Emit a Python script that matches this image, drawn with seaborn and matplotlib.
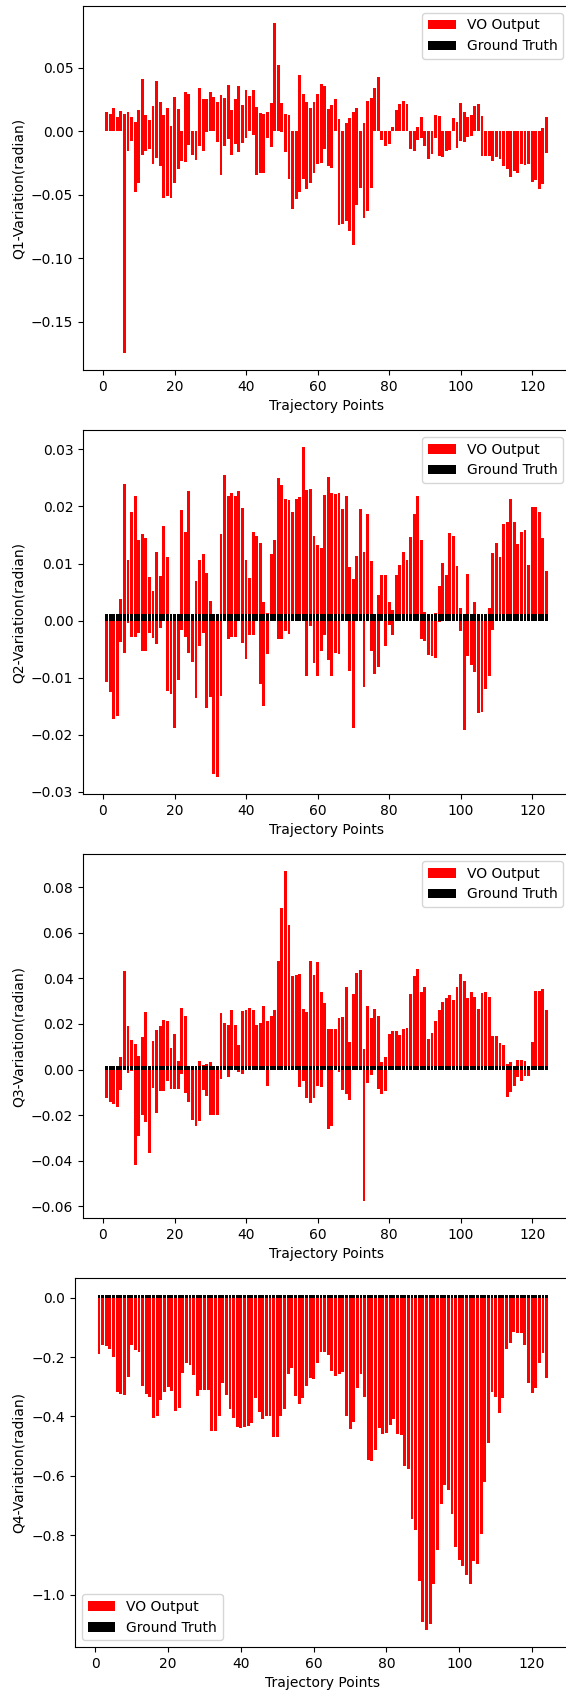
import matplotlib
matplotlib.use("Agg")
import matplotlib.pyplot as plt
import pandas as pd
import seaborn as sns

# Trajectory point index
points = list(range(1, 125))

# VO output: each point shows a red column above and below zero,
# so the upper and lower extents are kept separately
q1_up = [
    0.0153, 0.0138, 0.018, 0.0108, 0.0161, 0.0132, 0.0153, 0.0111, 0.0069, 0.0164,
    0.0413, 0.0124, 0.0085, 0.0196, 0.0397, 0.0233, 0.0127, 0.018, 0.0037, 0.0272,
    0.0172, 0, 0.0312, 0.0296, 0, 0, 0.0336, 0.0257, 0.0251, 0.0312,
    0.0265, 0.0228, 0.0288, 0.0259, 0.036, 0.0164, 0.0257, 0.0354, 0.0209, 0.0323,
    0.028, 0.0323, 0.019, 0.0143, 0.0132, 0.0148, 0.0225, 0.0855, 0.0524, 0.0225,
    0.0132, 0.0124, 0, 0, 0.0444, 0.0296, 0.0233, 0.018, 0.0233, 0.0296,
    0.0373, 0.0357, 0.0172, 0.0204, 0.0257, 0.0095, 0, 0.0061, 0.0103, 0.0148,
    0.0185, 0, 0.0061, 0.0241, 0.0262, 0.0336, 0.0429, 0, 0, 0,
    0.0029, 0.0164, 0.0217, 0.0235, 0.0212, 0, 0, 0.0032, 0.0111, 0,
    0, 0, 0.0124, 0.0116, 0, 0, 0, 0.01, 0.0071, 0.022,
    0.0151, 0.0108, 0.0124, 0.0196, 0.0217, 0.0116, 0, 0, 0, 0,
    0, 0, 0, 0, 0, 0, 0, 0, 0, 0,
    0, 0, 0.0024, 0.0108,
]
q1_down = [
    0, 0, 0, 0, 0, -0.175, -0.0153, -0.0074, -0.0476, -0.0405,
    -0.019, -0.0159, -0.0138, -0.0262, -0.0209, -0.0278, -0.0529, -0.0508, -0.0529, -0.041,
    -0.0294, -0.0233, -0.0241, -0.0108, -0.0185, -0.0225, -0.0119, -0.0153, -0.001, 0,
    0, -0.0085, -0.0349, -0.0116, -0.0058, -0.0185, -0.01, -0.0164, -0.0093, -0.005,
    0, -0.0032, -0.0344, -0.0333, -0.0328, -0.0053, -0.0122, 0, 0, -0.0008,
    -0.0164, -0.0376, -0.0614, -0.0537, -0.0476, -0.0373, -0.0458, -0.041, -0.0333, -0.0262,
    -0.0254, -0.014, -0.0272, -0.0291, 0, -0.0741, -0.0733, -0.0706, -0.0786, -0.0899,
    -0.0582, -0.0444, -0.0683, -0.063, -0.045, 0, 0, -0.0069, -0.0119, -0.01,
    0, 0, 0, 0, 0, -0.0138, -0.0153, -0.0066, -0.0053, -0.0119,
    -0.0217, -0.0177, -0.0053, -0.0198, -0.0206, -0.0159, -0.0146, 0, -0.0132, -0.0079,
    -0.0087, -0.0045, -0.004, 0, 0, -0.0198, -0.0198, -0.0198, -0.0238, -0.0204,
    -0.022, -0.0278, -0.0296, -0.0357, -0.031, -0.0331, -0.0259, -0.027, -0.0259, -0.0397,
    -0.0384, -0.0458, -0.0418, -0.0172,
]
q2_up = [
    0, 0, 0, 0, 0.0037, 0.024, 0.0107, 0.019, 0.0219, 0.0142,
    0.0151, 0.0144, 0.0076, 0.0051, 0.012, 0.0078, 0.0165, 0.0112, 0, 0,
    0, 0.0194, 0.0156, 0.0227, 0, 0.0069, 0.0107, 0.0116, 0.0084, 0.0035,
    0, 0, 0.0152, 0.0255, 0.0219, 0.0223, 0.0219, 0.0227, 0.0197, 0.0107,
    0.0074, 0.0156, 0.0148, 0.0136, 0.0033, 0.0013, 0.0117, 0.0141, 0.025, 0.0237,
    0.0213, 0.0211, 0.019, 0.0213, 0.0217, 0.0305, 0.0228, 0.0231, 0.0148, 0.0132,
    0.0127, 0.022, 0.0251, 0.0224, 0.0221, 0.0223, 0.0196, 0.0219, 0.0093, 0.0073,
    0.0113, 0.0196, 0.012, 0.0187, 0.0104, 0, 0.0045, 0.0079, 0.0079, 0.0033,
    0.0018, 0.0079, 0.0097, 0.012, 0.0107, 0.0146, 0.0186, 0.0219, 0.0142, 0.0015,
    0, 0, 0.0013, 0.006, 0.0101, 0.0079, 0.0154, 0.0149, 0.0095, 0.0022,
    0, 0.0082, 0, 0.0033, 0, 0, 0, 0.0022, 0.0118, 0.0136,
    0.0111, 0.0169, 0.0172, 0.0213, 0.0172, 0.0134, 0.0156, 0.0159, 0.0097, 0.0199,
    0.0199, 0.019, 0.0145, 0.0087,
]
q2_down = [
    -0.0107, -0.0125, -0.0173, -0.0167, -0.0038, -0.0056, -0.0004, -0.0028, -0.0028, -0.0021,
    -0.0054, -0.0054, -0.0022, -0.0031, -0.0041, -0.0013, 0, -0.0123, -0.0129, -0.0189,
    -0.0105, -0.0016, -0.0028, -0.0056, -0.0073, -0.0136, -0.0045, -0.0021, -0.0154, -0.0134,
    -0.0269, -0.0275, -0.0132, 0, -0.0033, -0.0028, -0.0028, 0, -0.0039, -0.0067,
    -0.0026, -0.0025, 0, -0.0111, -0.0149, -0.0059, 0, 0, -0.0032, -0.0032,
    -0.0018, -0.0023, 0, 0, 0, 0, -0.0097, -0.001, -0.0074, -0.0097,
    -0.0053, -0.0025, -0.007, -0.0098, -0.0057, -0.0059, 0, 0, -0.0089, -0.0189,
    0, 0, -0.0117, 0, -0.0053, -0.0094, -0.0082, 0, -0.0044, -0.0008,
    -0.0026, 0, 0, 0, 0, 0, 0, 0, -0.0032, -0.0035,
    -0.006, -0.0062, -0.0066, -0.0003, 0, 0, 0, 0, 0, -0.0018,
    -0.0192, -0.0062, -0.0078, -0.0091, -0.0162, -0.0161, -0.012, -0.0097, -0.0016, 0,
    0, 0, 0, 0, 0, 0, 0, 0, 0, 0,
    0, 0, 0, 0,
]
q3_up = [
    0, 0, 0, 0, 0.0056, 0.0432, 0.019, 0.0129, 0.0114, 0.006,
    0.0141, 0.0251, 0, 0.0126, 0.0173, 0.0192, 0.0217, 0.0212, 0.0095, 0.0154,
    0.0038, 0.0268, 0.0236, 0, 0, 0, 0.0037, 0.0019, 0.0026, 0.0034,
    0, 0, 0.0246, 0.0205, 0.0195, 0.0259, 0.0195, 0.0107, 0.0258, 0.0259,
    0.0268, 0.0261, 0.0195, 0.0205, 0.0278, 0.0212, 0.0234, 0.0261, 0.0476, 0.0708,
    0.0873, 0.0634, 0.041, 0.0415, 0.0419, 0.0264, 0.0251, 0.0476, 0.0415, 0.047,
    0.0341, 0.029, 0.0177, 0.0177, 0.0176, 0.0224, 0.0229, 0.036, 0.0122, 0.033,
    0.0422, 0.0437, 0.0088, 0.0277, 0.0224, 0.0264, 0.0234, 0.0034, 0.0053, 0.0155,
    0.0168, 0.0168, 0.0151, 0.0177, 0.0183, 0.033, 0.041, 0.0441, 0.0341, 0.036,
    0.0133, 0.0161, 0.0212, 0.0259, 0.0295, 0.0315, 0.0327, 0.0305, 0.0363, 0.0419,
    0.0388, 0.0312, 0.0341, 0.0316, 0.0264, 0.0334, 0.0338, 0.0319, 0.0147, 0.0147,
    0.0117, 0.0107, 0.0022, 0.0031, 0, 0.004, 0.004, 0.0038, 0.0012, 0.0122,
    0.0346, 0.0346, 0.0352, 0.0261,
]
q3_down = [
    -0.0127, -0.0142, -0.0152, -0.0164, -0.0091, 0, -0.0015, -0.0006, -0.042, -0.0292,
    -0.0198, -0.023, -0.0366, -0.0081, -0.0193, -0.0094, -0.0095, -0.005, -0.0084, -0.0086,
    -0.0085, -0.0021, -0.0101, -0.0142, -0.022, -0.0249, -0.0226, -0.0088, -0.0117, -0.0201,
    -0.0201, -0.0201, -0.004, 0, -0.0035, 0, 0, -0.001, -0.0021, 0,
    0, 0, 0, 0, 0, -0.0072, 0, 0, 0, 0,
    0, 0, 0, 0, -0.0076, -0.005, -0.0123, -0.0145, -0.0127, -0.0073,
    -0.0076, 0, -0.0262, -0.0248, 0, -0.001, -0.0088, -0.0108, -0.0135, 0,
    0, 0, -0.0579, -0.0059, -0.0025, 0, -0.0086, -0.0108, -0.0094, 0,
    0, 0, 0, 0, 0, 0, 0, 0, 0, 0,
    0, 0, 0, 0, 0, 0, 0, 0, 0, 0,
    0, 0, 0, 0, 0, 0, 0, 0, 0, 0,
    0, 0, -0.012, -0.0098, -0.0073, -0.0032, -0.005, -0.0029, -0.0028, 0,
    0, 0, 0, 0,
]
q4_down = [
    -0.19, -0.159, -0.162, -0.171, -0.201, -0.318, -0.325, -0.328, -0.268, -0.159,
    -0.175, -0.182, -0.296, -0.325, -0.333, -0.406, -0.40, -0.344, -0.316, -0.299,
    -0.313, -0.381, -0.372, -0.253, -0.22, -0.228, -0.261, -0.331, -0.31, -0.31,
    -0.31, -0.449, -0.449, -0.398, -0.287, -0.327, -0.376, -0.406, -0.434, -0.44,
    -0.434, -0.431, -0.423, -0.339, -0.386, -0.408, -0.397, -0.40, -0.469, -0.469,
    -0.398, -0.375, -0.258, -0.238, -0.331, -0.359, -0.339, -0.297, -0.269, -0.273,
    -0.22, -0.182, -0.183, -0.192, -0.246, -0.265, -0.258, -0.251, -0.398, -0.443,
    -0.42, -0.305, -0.258, -0.335, -0.547, -0.55, -0.513, -0.44, -0.46, -0.454,
    -0.429, -0.408, -0.46, -0.462, -0.568, -0.578, -0.746, -0.783, -0.955, -1.092,
    -1.12, -1.10, -0.965, -0.85, -0.696, -0.632, -0.648, -0.73, -0.841, -0.884,
    -0.903, -0.935, -0.963, -0.888, -0.898, -0.796, -0.622, -0.49, -0.319, -0.333,
    -0.389, -0.339, -0.172, -0.153, -0.117, -0.119, -0.119, -0.159, -0.286, -0.322,
    -0.305, -0.22, -0.187, -0.271,
]

# ground truth variation, roughly flat per component
gt_levels = [0.0005, 0.0011, 0.0015, 0.01]

ylabels = ["Q1-Variation(radian)", "Q2-Variation(radian)",
           "Q3-Variation(radian)", "Q4-Variation(radian)"]
legend_locs = ["upper right", "upper right", "upper right", "lower left"]

W, H = 566, 1694
fig = plt.figure(figsize=(W / 100, H / 100), dpi=100)

# axes boxes in pixels: left, top, right, bottom
boxes = [(83, 6, 570, 370), (83, 430, 570, 794),
         (83, 854, 570, 1218), (75, 1278, 570.6, 1647)]

series = [(q1_up, q1_down), (q2_up, q2_down), (q3_up, q3_down), (None, q4_down)]

for i, (up, down) in enumerate(series):
    l, t, r, b = boxes[i]
    ax = fig.add_axes([l / W, 1 - b / H, (r - l) / W, (b - t) / H])
    df = pd.DataFrame({"point": points, "down": down,
                       "gt": [gt_levels[i]] * len(points)})
    if up is not None:
        df["up"] = up
        sns.barplot(data=df, x="point", y="up", native_scale=True, color="red",
                    saturation=1, errorbar=None, linewidth=0, ax=ax)
    sns.barplot(data=df, x="point", y="down", native_scale=True, color="red",
                saturation=1, errorbar=None, linewidth=0, ax=ax)
    red_bars = ax.containers[-1]
    sns.barplot(data=df, x="point", y="gt", native_scale=True, color="black",
                saturation=1, errorbar=None, linewidth=0, ax=ax)
    black_bars = ax.containers[-1]

    span = max(points) - min(points) + 0.8
    ax.set_xlim(min(points) - 0.4 - 0.05 * span, max(points) + 0.4 + 0.05 * span)
    ax.set_xticks([0, 20, 40, 60, 80, 100, 120])
    ax.set_xlabel("Trajectory Points")
    ax.set_ylabel(ylabels[i])
    ax.legend([red_bars, black_bars], ["VO Output", "Ground Truth"], loc=legend_locs[i])

fig.savefig("out.png", dpi=100)
